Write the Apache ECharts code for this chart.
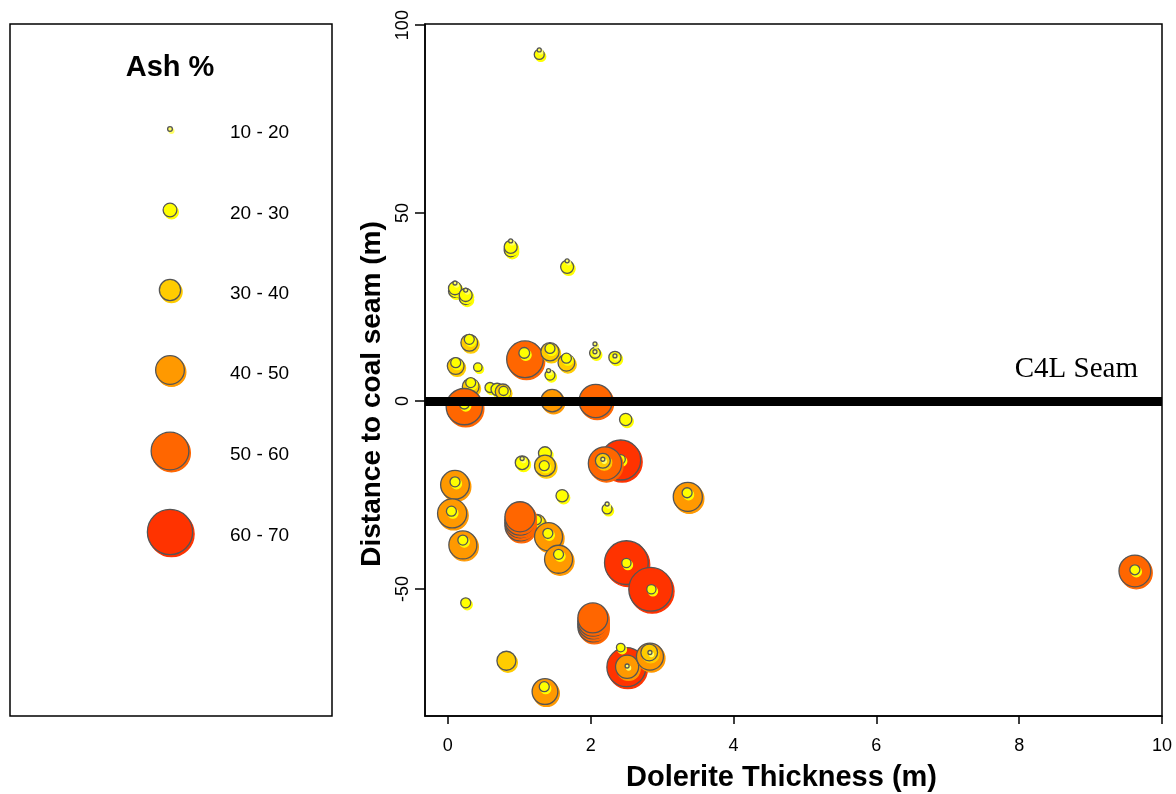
<!DOCTYPE html>
<html><head><meta charset="utf-8">
<script src="https://cdn.jsdelivr.net/npm/echarts@6/dist/echarts.min.js"></script>
<style>html,body{margin:0;padding:0;background:#fff}#c{width:1176px;height:794px}</style>
</head><body><div id="c"></div>
<script>
// ---- data (in drawing order: larger samples first, nested smaller ones on top) ----
const thickness = [
  1.28,1.28, 0.88,0.88,0.88, 1.67,1.67, 0.10,0.10,0.10, 0.25,0.25,0.25,
  0.30,0.30, 1.08,1.07, 1.43,1.43, 1.66,1.66, 0.11,0.11, 0.42, 1.43,1.41,
  2.06,2.06,2.06, 2.34,2.34, 0.32,0.32, 0.59, 0.69, 0.77,0.78, 0.23,0.23,
  1.46, 2.07, 2.49,
  1.04,1.04, 1.36, 1.36,1.35, 2.42,2.42, 2.20,2.17,2.17,
  0.10,0.10, 0.06,0.05, 0.21,0.21, 1.60, 2.23,2.23,
  1.25,1.24, 1.01,1.01,1.01,1.01, 1.41,1.40, 1.55,1.55,
  2.50,2.50, 2.84,2.85, 3.36,3.35, 0.25,
  2.03,2.03,2.03,2.03, 0.82, 1.36,1.35,
  2.50,2.42,2.51,2.51, 2.83,2.82,2.83, 9.62,9.62
];
const distance = [
  92.2,93.4, 40.1,41.0,42.6, 35.7,37.3, 29.3,30.0,31.4, 27.4,28.2,29.5,
  15.5,16.4, 11.1,12.8, 13.1,14.0, 10.2,11.4, 9.3,10.2, 9.0, 6.9,8.1,
  12.8,13.1,15.2, 11.6,12.0, 3.8,4.9, 3.6, 3.1, 2.5,2.7, -1.5,-0.8,
  0.1, 0.0, -4.9,
  -16.4,-15.3, -13.9, -17.2,-17.2, -15.7,-15.5, -16.6,-15.9,-15.5,
  -22.3,-21.5, -29.9,-29.3, -38.3,-37.0, -25.2, -28.7,-27.4,
  -32.4,-31.6, -33.2,-32.4,-31.7,-30.8, -36.1,-35.2, -42.1,-40.8,
  -43.0,-43.1, -50.1,-50.1, -25.5,-24.4, -53.7,
  -60.1,-59.3,-58.6,-57.7, -69.1, -77.3,-76.0,
  -70.8,-65.6,-70.7,-70.5, -68.0,-66.9,-66.9, -45.2,-44.9
];
const ash = [
  24,16, 28,28,16, 28,16, 28,28,16, 28,28,16,
  33,24, 59.5,25, 35,24, 33,24, 33,24, 22, 24,16,
  25,16,16, 27,16, 33,24, 24, 27, 31,23, 59,24,
  40.5, 55, 27,
  29,16, 28, 38.5,24, 64,23, 55,30.5,16,
  49,24, 49.5,24, 48,24, 27, 24,16,
  33,24, 50.7,50.7,50.7,50.7, 48,24, 48,24,
  69,23, 69,23, 49.5,24, 24,
  50.5,50.5,50.5,50.5, 36, 45,24,
  62.7,22,41.5,16, 46.7,33,16, 53,24
];
const xTicks = [0, 2, 4, 6, 8, 10];
const yTicks = [-50, 0, 50, 100];
const ashBins = ['10 - 20', '20 - 30', '30 - 40', '40 - 50', '50 - 60', '60 - 70'];
const binColors = ['#FFFF66', '#FFFF00', '#FFCC00', '#FF9900', '#FF6600', '#FF3300'];
const legendAsh = [17, 29, 39, 49, 61, 71];
const seamDistance = 0;
const seamName = 'C4L Seam';

// ---- helpers ----
const sizeOf = a => Math.max(3.5, 0.75 * a - 8);
const binOf = a => Math.min(5, Math.max(0, Math.floor(a / 10) - 1));

const points = thickness.map((x, i) => {
  const c = binColors[binOf(ash[i])];
  return { value: [x, distance[i], ash[i]], symbolSize: sizeOf(ash[i]),
           itemStyle: { color: c, shadowColor: c } };
});

// legend drawn as graphic (not data)
const legendRowsY = [129, 210, 290, 370, 451, 532];
const legendGraphics = [
  { type: 'rect', shape: { x: 10, y: 24, width: 322, height: 692 },
    style: { fill: 'none', stroke: '#000', lineWidth: 1.5 } },
  { type: 'text', x: 170, y: 68,
    style: { text: 'Ash %', font: 'bold 29px "Liberation Sans", Arial, sans-serif',
             fill: '#000', align: 'center', verticalAlign: 'middle' } }
];
ashBins.forEach((lab, i) => {
  const r = sizeOf(legendAsh[i]) / 2;
  legendGraphics.push({ type: 'circle', shape: { cx: 170, cy: legendRowsY[i], r: r },
    style: { fill: binColors[i], stroke: '#555', lineWidth: 1.3,
             shadowColor: binColors[i], shadowOffsetX: 1.5, shadowOffsetY: 2, shadowBlur: 0 } });
  legendGraphics.push({ type: 'text', x: 230, y: legendRowsY[i] + 4,
    style: { text: lab, font: '19px "Liberation Sans", Arial, sans-serif', fill: '#000',
             align: 'left', verticalAlign: 'middle' } });
});

const chart = echarts.init(document.getElementById('c'), null, { renderer: 'canvas' });
chart.setOption({
  animation: false,
  backgroundColor: '#fff',
  grid: { left: 425, right: 14, top: 24, bottom: 78, show: true, containLabel: false,
          outerBoundsMode: 'none',
          borderColor: '#000', borderWidth: 1.5, backgroundColor: 'transparent' },
  xAxis: {
    type: 'value', min: -0.32, max: 10,
    name: 'Dolerite Thickness (m)', nameLocation: 'middle', nameGap: 47,
    nameTextStyle: { fontFamily: '"Liberation Sans", Arial, sans-serif', fontWeight: 'bold', fontSize: 29,
                     color: '#000', padding: [0, 24, 0, 0] },
    axisLine: { show: true, onZero: false, lineStyle: { color: '#000', width: 1.5 } },
    axisTick: { show: true, length: 8, customValues: xTicks, lineStyle: { color: '#000', width: 1.5 } },
    axisLabel: { customValues: xTicks, margin: 21, fontSize: 18, color: '#000',
                 fontFamily: '"Liberation Sans", Arial, sans-serif' },
    splitLine: { show: false }
  },
  yAxis: {
    type: 'value', min: -83.8, max: 100.3,
    name: 'Distance to coal seam (m)', nameLocation: 'middle', nameGap: 33,
    nameTextStyle: { fontFamily: '"Liberation Sans", Arial, sans-serif', fontWeight: 'bold', fontSize: 28,
                     color: '#000', padding: [0, 48, 0, 0] },
    axisLine: { show: true, onZero: false, lineStyle: { color: '#000', width: 1.5 } },
    axisTick: { show: true, length: 10, customValues: yTicks, lineStyle: { color: '#000', width: 1.5 } },
    axisLabel: { customValues: yTicks, rotate: 90, margin: 13, fontSize: 18, color: '#000',
                 fontFamily: '"Liberation Sans", Arial, sans-serif' },
    splitLine: { show: false }
  },
  graphic: legendGraphics,
  series: [
    {
      type: 'scatter', symbol: 'circle', data: points, z: 2,
      itemStyle: { borderColor: '#555', borderWidth: 1.3, shadowBlur: 0,
                   shadowOffsetX: 1.5, shadowOffsetY: 2, opacity: 1 },
      emphasis: { disabled: true }
    },
    {
      type: 'scatter', data: [], z: 5,
      markLine: {
        silent: true, symbol: ['none', 'none'], animation: false,
        lineStyle: { color: '#000', width: 9, type: 'solid' },
        label: { show: true, position: 'insideEndTop', formatter: seamName,
                 distance: [24, 17], color: '#000', fontSize: 29,
                 fontFamily: '"Liberation Serif", "DejaVu Serif", serif' },
        data: [{ yAxis: seamDistance }]
      }
    }
  ]
});
</script>
</body></html>
